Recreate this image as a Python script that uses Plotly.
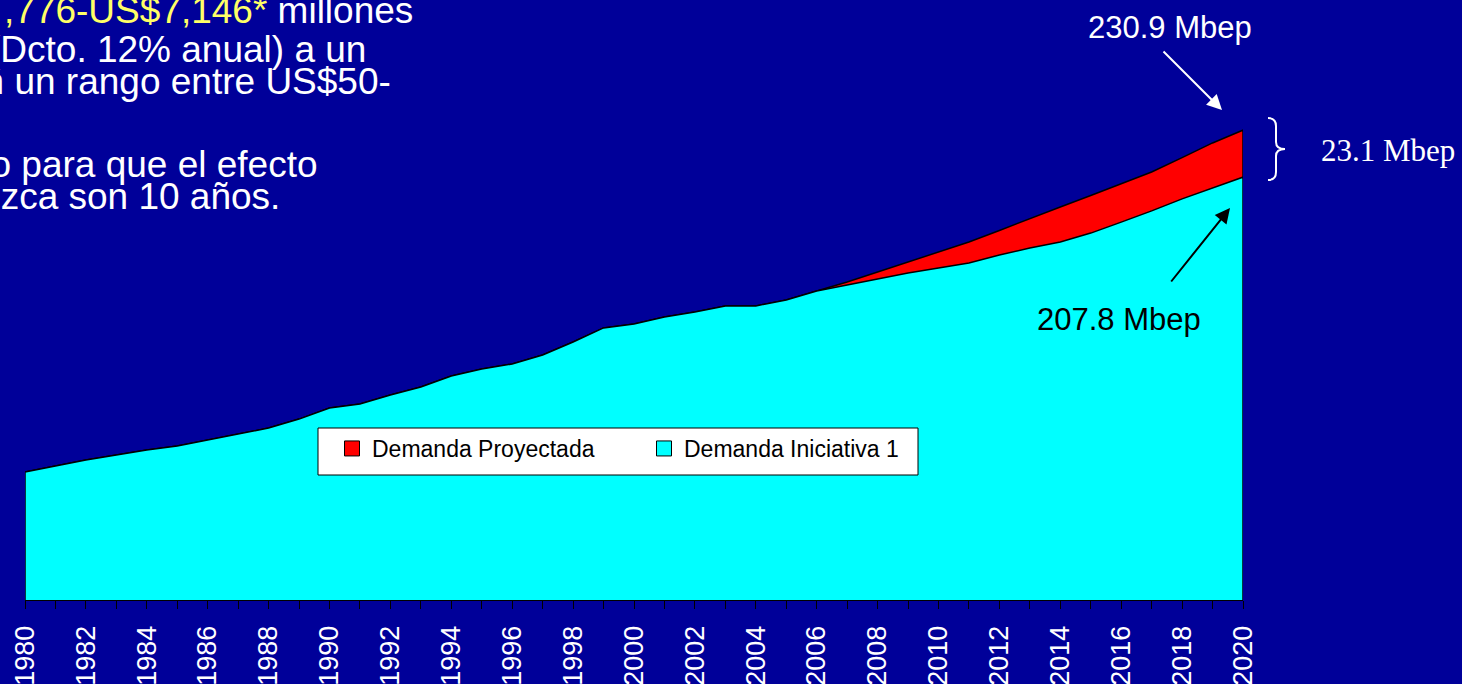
import plotly.graph_objects as go

# Data
years = list(range(1980, 2021))
demanda_iniciativa = [62.9, 65.8, 68.8, 71.3, 73.7, 75.7, 78.6, 81.6, 84.5, 88.9,
                      94.3, 96.3, 100.7, 104.7, 110.1, 113.5, 116.0, 120.4, 126.8, 133.7,
                      135.6, 139.1, 141.5, 144.5, 144.5, 147.4, 151.8, 154.8, 157.7, 160.7,
                      163.1, 165.6, 169.5, 173.0, 175.9, 180.3, 185.7, 191.2, 197.1, 202.5,
                      207.8]
demanda_proyectada = [62.9, 65.8, 68.8, 71.3, 73.7, 75.7, 78.6, 81.6, 84.5, 88.9,
                      94.3, 96.3, 100.7, 104.7, 110.1, 113.5, 116.0, 120.4, 126.8, 133.7,
                      135.6, 139.1, 141.5, 144.5, 144.5, 147.4, 151.8, 156.3, 161.2, 166.1,
                      171.0, 175.9, 181.6, 187.2, 193.1, 198.8, 204.4, 210.3, 217.4, 224.6,
                      230.9]
series_names = ["Demanda Proyectada", "Demanda Iniciativa 1"]
series_colors = ["#FF0000", "#00FFFF"]

BG = "#000099"
W, H = 1462, 684
L, R, B, T = 25, 219, 84, 0


def px_x(p):
    return (p - L) / (W - L - R)


def px_y(p):
    return (H - B - p) / (H - B - T)


fig = go.Figure()

# closed areas so the left/right/bottom edges get the black outline too
for name, vals, col in zip(series_names, [demanda_proyectada, demanda_iniciativa], series_colors):
    fig.add_trace(go.Scatter(
        x=[years[0]] + years + [years[-1]],
        y=[0] + vals + [0],
        mode="lines", fill="toself", fillcolor=col,
        line=dict(color="black", width=1.5),
        showlegend=False, hoverinfo="skip"))

# legend entries
for name, col in zip(series_names, series_colors):
    fig.add_trace(go.Scatter(
        x=[None], y=[None], mode="markers", name=name,
        marker=dict(symbol="square", size=15, color=col, line=dict(color="black", width=1))))

white_font = dict(family="Liberation Sans, Arial", size=37, color="white")
text_lines = [
    ("<span style='color:#FFFF66'>,776-US$7,146*</span> millones", 415, 11),
    ("(Dcto. 12% anual) a un", 368, 49),
    ("en un rango entre US$50-", 393, 81),
    ("tiempo para que el efecto", 320, 164),
    ("produzca son 10 años.", 282, 196),
]
annotations = []
for txt, xr, yc in text_lines:
    annotations.append(dict(text=txt, xref="paper", yref="paper", x=px_x(xr), y=px_y(yc),
                            xanchor="right", yanchor="middle", showarrow=False, font=white_font))

annotations += [
    dict(text="230.9 Mbep", xref="paper", yref="paper", x=px_x(1170), y=px_y(27),
         xanchor="center", yanchor="middle", showarrow=False,
         font=dict(family="Liberation Sans, Arial", size=31, color="white")),
    dict(text="", xref="paper", yref="paper", x=px_x(1222), y=px_y(110), ax=-60, ay=-60,
         showarrow=True, arrowhead=2, arrowsize=1.5, arrowwidth=2, arrowcolor="white", standoff=0),
    dict(text="23.1 Mbep", xref="paper", yref="paper", x=px_x(1388), y=px_y(150),
         xanchor="center", yanchor="middle", showarrow=False,
         font=dict(family="Liberation Serif, Times New Roman", size=31, color="white")),
    dict(text="207.8 Mbep", xref="paper", yref="paper", x=px_x(1119), y=px_y(319),
         xanchor="center", yanchor="middle", showarrow=False,
         font=dict(family="Liberation Sans, Arial", size=31, color="black")),
    dict(text="", xref="paper", yref="paper", x=px_x(1230), y=px_y(208), ax=-60, ay=75,
         showarrow=True, arrowhead=2, arrowsize=1.5, arrowwidth=2, arrowcolor="black", standoff=0),
]

# curly brace next to the 2020 gap
bx0, bx1, bx2 = px_x(1268), px_x(1276), px_x(1285)
by = [px_y(v) for v in (118, 126, 142, 149, 156, 172, 180)]
brace = (f"M {bx0},{by[0]} Q {bx1},{by[0]} {bx1},{by[1]} L {bx1},{by[2]} "
         f"Q {bx1},{by[3]} {bx2},{by[3]} Q {bx1},{by[3]} {bx1},{by[4]} "
         f"L {bx1},{by[5]} Q {bx1},{by[6]} {bx0},{by[6]}")

shapes = [
    dict(type="path", path=brace, xref="paper", yref="paper",
         line=dict(color="white", width=2)),
    dict(type="rect", xref="paper", yref="paper", x0=px_x(318), x1=px_x(918),
         y0=px_y(475), y1=px_y(428), fillcolor="white", line=dict(color="black", width=1),
         layer="above"),
]

fig.update_layout(
    width=W, height=H,
    template="none",
    paper_bgcolor=BG, plot_bgcolor=BG,
    margin=dict(l=L, r=R, t=T, b=B, autoexpand=False),
    showlegend=True,
    legend=dict(orientation="h", x=px_x(332), y=px_y(427), xanchor="left", yanchor="top",
                bgcolor="rgba(0,0,0,0)", borderwidth=0, entrywidth=267,
                font=dict(family="Liberation Sans, Arial", size=23, color="black")),
    xaxis=dict(range=[1980, 2020], tick0=1980, dtick=2, tickangle=-90,
               ticks="outside", ticklen=8, tickcolor="black", tickwidth=1,
               minor=dict(dtick=1, ticks="outside", ticklen=8, tickcolor="black"),
               showline=True, linecolor="black", linewidth=1, showgrid=False, zeroline=False,
               tickfont=dict(family="Liberation Sans, Arial", size=27, color="white"),
               ticklabelstandoff=6, automargin=False),
    yaxis=dict(range=[0, 600 / 2.035], visible=False, showgrid=False, automargin=False),
    annotations=annotations,
    shapes=shapes,
)

fig.write_html("out.html", config={"displayModeBar": False},
               post_script="document.body.style.margin='0';")
